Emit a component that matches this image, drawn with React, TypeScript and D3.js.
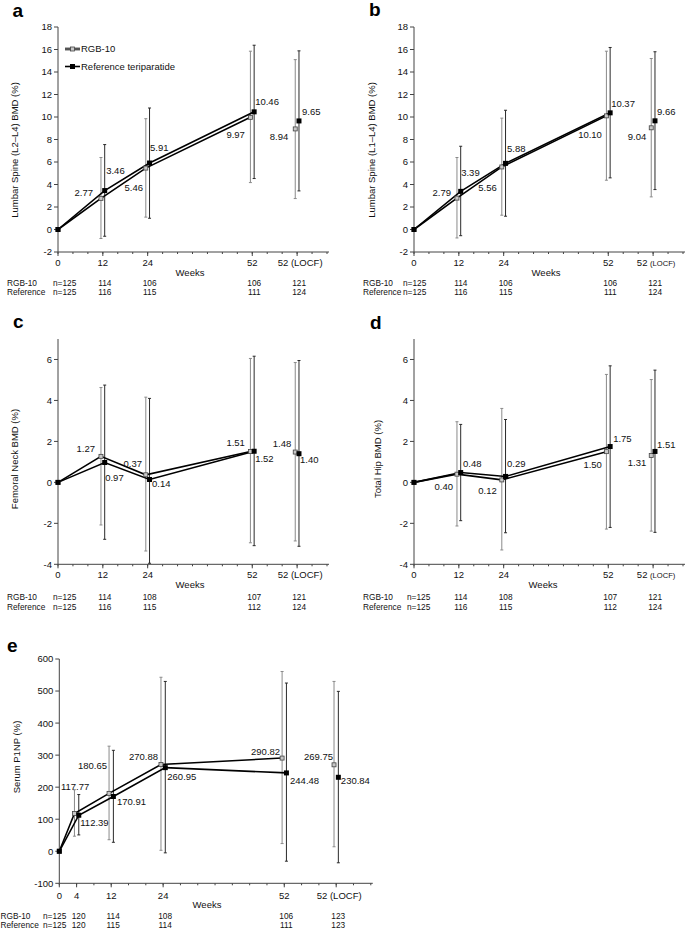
import React from "react";
import * as d3 from "d3";

// ---------- DATA ----------
const weekLabelsBMD = ["0", "12", "24", "52", "52 (LOCF)"];
const weekPosBMD = [0, 12, 24, 52, 64];
const weekLabelsE = ["0", "4", "12", "24", "52", "52 (LOCF)"];
const weekPosE = [0, 4, 12, 24, 52, 64];

// Panel a: Lumbar spine L2–L4
const aRgb = [0, 2.77, 5.46, 9.97, 8.94];
const aRgbLo = [null, -0.8, 1.1, 4.17, 2.75];
const aRgbHi = [null, 6.4, 9.85, 15.85, 15.1];
const aRef = [0, 3.46, 5.91, 10.46, 9.65];
const aRefLo = [null, -0.6, 1.0, 4.53, 3.43];
const aRefHi = [null, 7.55, 10.8, 16.38, 15.88];

// Panel b: Lumbar spine L1–L4
const bRgb = [0, 2.79, 5.56, 10.1, 9.04];
const bRgbLo = [null, -0.75, 1.27, 4.38, 2.9];
const bRgbHi = [null, 6.4, 9.9, 15.85, 15.2];
const bRef = [0, 3.39, 5.88, 10.37, 9.66];
const bRefLo = [null, -0.55, 1.18, 4.59, 3.55];
const bRefHi = [null, 7.4, 10.6, 16.18, 15.8];

// Panel c: Femoral neck
const cRgb = [0, 1.27, 0.37, 1.51, 1.48];
const cRgbLo = [null, -2.08, -3.35, -2.95, -2.86];
const cRgbHi = [null, 4.63, 4.16, 6.05, 5.85];
const cRef = [0, 0.97, 0.14, 1.52, 1.4];
const cRefLo = [null, -2.78, -3.95, -3.09, -3.12];
const cRefHi = [null, 4.75, 4.1, 6.16, 5.95];

// Panel d: Total hip
const dRgb = [0, 0.4, 0.12, 1.5, 1.31];
const dRgbLo = [null, -2.13, -3.3, -2.28, -2.38];
const dRgbHi = [null, 2.96, 3.61, 5.27, 5.02];
const dRef = [0, 0.48, 0.29, 1.75, 1.51];
const dRefLo = [null, -1.87, -2.46, -2.2, -2.44];
const dRefHi = [null, 2.83, 3.07, 5.69, 5.48];

// Panel e: Serum P1NP
const eRgb = [0, 117.77, 180.65, 270.88, 290.82, 269.75];
const eRgbLo = [null, 47, 36, 3, 24, 14];
const eRgbHi = [null, 192, 328, 543, 561, 530];
const eRef = [0, 112.39, 170.91, 260.95, 244.48, 230.84];
const eRefLo = [null, 51, 28, -5, -31, -36];
const eRefHi = [null, 177, 315, 530, 525, 499];

// Sample sizes
const nRgbAB = [125, 114, 106, 106, 121];
const nRefAB = [125, 116, 115, 111, 124];
const nRgbCD = [125, 114, 108, 107, 121];
const nRefCD = [125, 116, 115, 112, 124];
const nRgbE = [125, 120, 114, 108, 106, 123];
const nRefE = [125, 120, 115, 114, 111, 123];

const yTicksAB = [-2, 0, 2, 4, 6, 8, 10, 12, 14, 16, 18];
const yTicksCD = [-4, -2, 0, 2, 4, 6];
const yTicksE = [-100, 0, 100, 200, 300, 400, 500, 600];

// ---------- LAYOUT ----------
const FONT = "'Liberation Sans', Arial, Helvetica, sans-serif";

type LP = [number, number, string] | null;

const panels = [
  {
    letter: "a", lx: 12.5, ly: 17,
    xRange: [58, 327], yDomain: [-2, 18], yRange: [252, 27], yTicks: yTicksAB,
    weeks: weekPosBMD, wl: weekLabelsBMD, smallLocf: false,
    yLabel: "Lumbar Spine (L2\u2013L4) BMD (%)", ylx: 15, yly: 150,
    rgb: aRgb, rgbLo: aRgbLo, rgbHi: aRgbHi, ref: aRef, refLo: aRefLo, refHi: aRefHi,
    nRgb: nRgbAB, nRef: nRefAB, nx: 7, n0x: 53,
    tickDy: 13.5, weeksX: 190, weeksDy: 23.5, n1Dy: 33.5, n2Dy: 43,
    rgbL: [null, [-8, -6, "end"], [-2.8, 19.8, "end"], [-5.5, 17, "end"], [-7, 8, "end"]] as LP[],
    refL: [null, [1.5, -19.7, "start"], [0.5, -15, "start"], [1, -10, "start"], [3, -9, "start"]] as LP[],
    legend: true,
  },
  {
    letter: "b", lx: 369, ly: 16,
    xRange: [414, 683], yDomain: [-2, 18], yRange: [252, 27], yTicks: yTicksAB,
    weeks: weekPosBMD, wl: weekLabelsBMD, smallLocf: true,
    yLabel: "Lumbar Spine (L1\u2013L4) BMD (%)", ylx: 372, yly: 150,
    rgb: bRgb, rgbLo: bRgbLo, rgbHi: bRgbHi, ref: bRef, refLo: bRefLo, refHi: bRefHi,
    nRgb: nRgbAB, nRef: nRefAB, nx: 363, n0x: 403,
    tickDy: 13.5, weeksX: 546, weeksDy: 23.5, n1Dy: 33.5, n2Dy: 43,
    rgbL: [null, [-6, -6, "end"], [-5, 21, "end"], [-4.5, 19, "end"], [-5, 9, "end"]] as LP[],
    refL: [null, [0.5, -19, "start"], [1.5, -15, "start"], [1, -9.6, "start"], [2, -9.6, "start"]] as LP[],
    legend: false,
  },
  {
    letter: "c", lx: 13, ly: 328,
    xRange: [58, 327], yDomain: [-4, 7], yRange: [564.3, 339], yTicks: yTicksCD,
    weeks: weekPosBMD, wl: weekLabelsBMD, smallLocf: false,
    yLabel: "Femoral Neck BMD (%)", ylx: 15, yly: 459,
    rgb: cRgb, rgbLo: cRgbLo, rgbHi: cRgbHi, ref: cRef, refLo: cRefLo, refHi: cRefHi,
    nRgb: nRgbCD, nRef: nRefCD, nx: 7, n0x: 53,
    tickDy: 14, weeksX: 190, weeksDy: 23.5, n1Dy: 35.5, n2Dy: 46,
    rgbL: [null, [-6, -8, "end"], [-3.8, -11.7, "end"], [-5.5, -9, "end"], [-4, -8, "end"]] as LP[],
    refL: [null, [0.5, 14.6, "start"], [2.5, 3.6, "start"], [1, 7, "start"], [1, 5.5, "start"]] as LP[],
    legend: false,
  },
  {
    letter: "d", lx: 370, ly: 329,
    xRange: [414, 683], yDomain: [-4, 7], yRange: [564.3, 339], yTicks: yTicksCD,
    weeks: weekPosBMD, wl: weekLabelsBMD, smallLocf: true,
    yLabel: "Total Hip BMD (%)", ylx: 378, yly: 459,
    rgb: dRgb, rgbLo: dRgbLo, rgbHi: dRgbHi, ref: dRef, refLo: dRefLo, refHi: dRefHi,
    nRgb: nRgbCD, nRef: nRefCD, nx: 363, n0x: 407,
    tickDy: 14, weeksX: 543, weeksDy: 23.5, n1Dy: 35.5, n2Dy: 45.5,
    rgbL: [null, [-4, 12, "end"], [-5, 11, "end"], [-4.5, 13.4, "end"], [-5, 7.5, "end"]] as LP[],
    refL: [null, [2.3, -8.5, "start"], [1.5, -12.4, "start"], [3, -7.5, "start"], [2, -6.4, "start"]] as LP[],
    legend: false,
  },
  {
    letter: "e", lx: 7, ly: 652,
    xRange: [59.3, 370.8], yDomain: [-100, 600], yRange: [883.3, 659], yTicks: yTicksE,
    weeks: weekPosE, wl: weekLabelsE, smallLocf: false,
    yLabel: "Serum P1NP (%)", ylx: 17, yly: 757,
    rgb: eRgb, rgbLo: eRgbLo, rgbHi: eRgbHi, ref: eRef, refLo: eRefLo, refHi: eRefHi,
    nRgb: nRgbE, nRef: nRefE, nx: 0.5, n0x: 43,
    tickDy: 16, weeksX: 207, weeksDy: 24.5, n1Dy: 36, n2Dy: 45,
    rgbL: [null, [-13.5, -27, "start"], [-2, -28, "end"], [-3, -7.5, "end"], [-2, -6.7, "end"], [-1, -8.5, "end"]] as LP[],
    refL: [null, [1.5, 7.7, "start"], [3.6, 5.4, "start"], [2, 9.3, "start"], [3.6, 7.4, "start"], [2.5, 3, "start"]] as LP[],
    legend: false,
  },
];

const OFF = 0.5; // week offset for the two series
const FS = 9.5;
const NFS = 8.3;

function Panel({ p }: { p: (typeof panels)[number] }) {
  const x = d3.scaleLinear().domain([0, 72]).range(p.xRange);
  const y = d3.scaleLinear().domain(p.yDomain).range(p.yRange);
  const ax = p.xRange[0];
  const axY = p.yRange[0];
  const nLine = p.weeks.length - 1; // LOCF point not connected

  const px = (i: number, s: number) => (i === 0 ? x(p.weeks[i]) : x(p.weeks[i] + s * OFF));
  const line = d3.line<[number, number]>().x((d) => d[0]).y((d) => d[1]);
  const rgbPts: [number, number][] = p.rgb.slice(0, nLine).map((v, i) => [px(i, -1), y(v)]);
  const refPts: [number, number][] = p.ref.slice(0, nLine).map((v, i) => [px(i, 1), y(v)]);

  const minor = d3.range(0, 73, 4);

  const errBars = (lo: (number | null)[], hi: (number | null)[], s: number, color: string) =>
    lo.map((l, i) => {
      if (l === null || hi[i] === null) return null;
      const xx = px(i, s);
      const y1 = y(Math.max(l, p.yDomain[0]));
      const y2 = y(hi[i] as number);
      return (
        <g key={`eb${s}${i}`} stroke={color} strokeWidth={1}>
          <line x1={xx} x2={xx} y1={y1} y2={y2} />
          <line x1={xx - 1.5} x2={xx + 1.5} y1={y2} y2={y2} />
          {l >= p.yDomain[0] && <line x1={xx - 1.5} x2={xx + 1.5} y1={y1} y2={y1} />}
        </g>
      );
    });

  const labels = (vals: number[], specs: LP[], s: number) =>
    vals.map((v, i) => {
      const sp = specs[i];
      if (!sp) return null;
      return (
        <text
          key={`lb${s}${i}`}
          x={px(i, s) + sp[0]}
          y={y(v) + sp[1] + FS * 0.36}
          textAnchor={sp[2] as any}
          fontSize={FS}
          fill="#111"
        >
          {v.toFixed(2)}
        </text>
      );
    });

  return (
    <g fontFamily={FONT}>
      <text x={p.lx} y={p.ly} fontSize={19} fontWeight="bold" fill="#000">
        {p.letter}
      </text>
      <text
        transform={`translate(${p.ylx + 3.4},${p.yly}) rotate(-90)`}
        textAnchor="middle"
        fontSize={FS}
        fill="#111"
      >
        {p.yLabel}
      </text>
      <line x1={ax} x2={ax} y1={y(p.yDomain[0])} y2={y(p.yDomain[1])} stroke="#444" strokeWidth={1} />
      {p.yTicks.map((t) => (
        <g key={`yt${t}`}>
          <line x1={ax - 4} x2={ax} y1={y(t)} y2={y(t)} stroke="#444" strokeWidth={1} />
          <text x={ax - 6} y={y(t) + FS * 0.36} textAnchor="end" fontSize={FS} fill="#111">
            {t}
          </text>
        </g>
      ))}
      <line x1={ax} x2={p.xRange[1] + 2} y1={axY} y2={axY} stroke="#444" strokeWidth={1} />
      {minor.map((m) => (
        <line key={`mn${m}`} x1={x(m)} x2={x(m)} y1={axY} y2={axY + 2} stroke="#444" strokeWidth={1} />
      ))}
      {p.weeks.map((w, i) => (
        <g key={`xt${i}`}>
          <line x1={x(w)} x2={x(w)} y1={axY} y2={axY + 4} stroke="#444" strokeWidth={1} />
          <text
            x={x(w) + (i === p.weeks.length - 1 ? 3 : 0)}
            y={axY + p.tickDy}
            textAnchor="middle"
            fontSize={FS}
            fill="#111"
          >
            {p.smallLocf && i === p.weeks.length - 1 ? (
              <>
                52 <tspan fontSize={7.6}>(LOCF)</tspan>
              </>
            ) : (
              p.wl[i]
            )}
          </text>
        </g>
      ))}
      <text x={p.weeksX} y={axY + p.weeksDy} textAnchor="middle" fontSize={FS} fill="#111">
        Weeks
      </text>
      <g fontSize={NFS} fill="#111">
        <text x={p.nx} y={axY + p.n1Dy}>RGB-10</text>
        <text x={p.nx} y={axY + p.n2Dy}>Reference</text>
        {p.nRgb.map((n, i) =>
          i === 0 ? (
            <text key={`nr${i}`} x={p.n0x} y={axY + p.n1Dy}>{`n=${n}`}</text>
          ) : (
            <text key={`nr${i}`} x={x(p.weeks[i]) + 2} y={axY + p.n1Dy} textAnchor="middle">
              {n}
            </text>
          )
        )}
        {p.nRef.map((n, i) =>
          i === 0 ? (
            <text key={`nf${i}`} x={p.n0x} y={axY + p.n2Dy}>{`n=${n}`}</text>
          ) : (
            <text key={`nf${i}`} x={x(p.weeks[i]) + 2} y={axY + p.n2Dy} textAnchor="middle">
              {n}
            </text>
          )
        )}
      </g>
      {errBars(p.rgbLo, p.rgbHi, -1, "#8a8a8a")}
      {errBars(p.refLo, p.refHi, 1, "#2a2a2a")}
      <path d={line(rgbPts) || ""} fill="none" stroke="#000" strokeWidth={1.6} />
      <path d={line(refPts) || ""} fill="none" stroke="#000" strokeWidth={1.6} />
      {p.rgb.map((v, i) => (
        <rect key={`mr${i}`} x={px(i, -1) - 2} y={y(v) - 2} width={4} height={4} fill="#c8c8c8" stroke="#444" strokeWidth={0.8} />
      ))}
      {p.ref.map((v, i) => (
        <rect key={`mf${i}`} x={px(i, 1) - 2.5} y={y(v) - 2.5} width={5} height={5} fill="#000" />
      ))}
      {labels(p.rgb, p.rgbL, -1)}
      {labels(p.ref, p.refL, 1)}
      {p.legend && (
        <g fontSize={FS} fill="#111">
          <line x1={65} x2={80} y1={49} y2={49} stroke="#000" strokeWidth={2.6} />
          <line x1={65} x2={80} y1={49} y2={49} stroke="#bbb" strokeWidth={0.9} />
          <rect x={70.5} y={47} width={4} height={4} fill="#c8c8c8" stroke="#444" strokeWidth={0.8} />
          <text x={81} y={49 + FS * 0.36}>RGB-10</text>
          <line x1={65} x2={80} y1={66.5} y2={66.5} stroke="#000" strokeWidth={1.6} />
          <rect x={70} y={64} width={5} height={5} fill="#000" />
          <text x={81} y={66.5 + FS * 0.36}>Reference teriparatide</text>
        </g>
      )}
    </g>
  );
}

export default function App() {
  return (
    <div style={{ position: "absolute", left: 0, top: 0 }}>
      <svg width={685} height={931} viewBox="0 0 685 931" style={{ display: "block", background: "#fff" }}>
        <rect x={0} y={0} width={685} height={931} fill="#fff" />
        {panels.map((p) => (
          <Panel key={p.letter} p={p} />
        ))}
      </svg>
    </div>
  );
}
